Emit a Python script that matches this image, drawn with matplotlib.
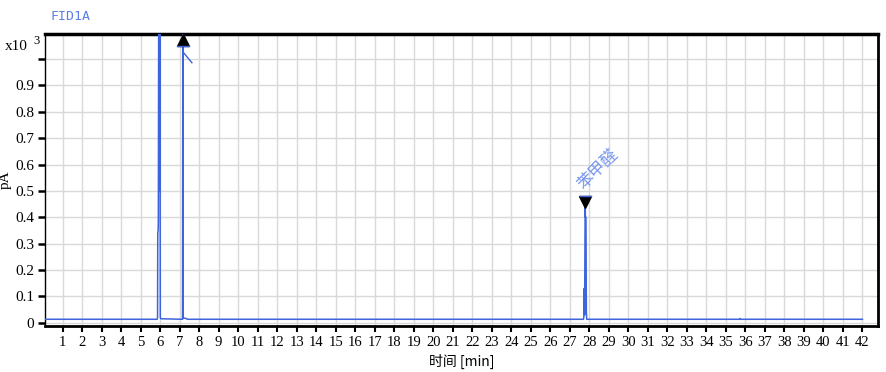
import matplotlib.pyplot as plt

# chromatogram trace (min, x10^3 pA)
time_min = [0.1, 5.85, 5.87, 5.88, 5.90, 5.91, 5.93, 5.95, 5.96, 5.97, 5.99, 6.01, 6.03,
            7.15, 7.17, 7.18, 7.30, 7.40,
            27.70, 27.72, 27.74, 27.76, 27.79, 27.80, 27.83, 27.85, 27.87,
            35.70, 35.73, 35.76, 42.0]
signal = [0.013, 0.013, 0.02, 0.34, 0.35, 0.39, 1.3, 0.5, 1.3, 0.5, 1.3, 0.02, 0.015,
          0.013, 1.3, 0.017, 0.017, 0.013,
          0.013, 0.02, 0.13, 0.03, 0.46, 0.40, 0.40, 0.04, 0.013,
          0.013, 0.016, 0.013, 0.013]

# peak markers / labels
peak_up_t, peak_up_y = 7.17, 1.072
peak_dn_t, peak_dn_y = 27.80, 0.458
peak_name = "苯甲醛"
tick_x = list(range(1, 43))
tick_y = [0, 0.1, 0.2, 0.3, 0.4, 0.5, 0.6, 0.7, 0.8, 0.9, 1.0]
tick_y_labels = ["0", "0.1", "0.2", "0.3", "0.4", "0.5", "0.6", "0.7", "0.8", "0.9", ""]
offscale_t = [7.17, 7.63]
offscale_y = [1.027, 0.986]

blue = "#3d63dd"
serif = ["Liberation Serif", "DejaVu Serif"]
cjk = ["Noto Sans CJK SC", "DejaVu Sans"]

fig = plt.figure(figsize=(8.86, 3.72), dpi=100)
ax = fig.add_axes([45/886, 46/372, 833/886, 292/372])

ax.plot(time_min, signal, color=blue, lw=1.1, zorder=3)
ax.plot(offscale_t, offscale_y, color=blue, lw=1.0, zorder=3)

ax.plot(peak_up_t, peak_up_y, marker="^", color="black", ms=8, zorder=4)
ax.plot([peak_up_t - 0.3, peak_up_t + 0.3], [peak_up_y - 0.022]*2, color=blue, lw=1, zorder=4)
ax.plot(peak_dn_t, peak_dn_y, marker="v", color="black", ms=8, zorder=4)
ax.plot([peak_dn_t - 0.3, peak_dn_t + 0.3], [peak_dn_y + 0.022]*2, color=blue, lw=1, zorder=4)
ax.text(peak_dn_t + 0.05, peak_dn_y + 0.035, peak_name, rotation=45, color="#7896ee",
        fontsize=12, family=cjk, ha="left", va="bottom", rotation_mode="anchor")

ax.set_xlim(0.1, 42.8)
ax.set_ylim(-0.0125, 1.095)
ax.set_xticks(tick_x)
ax.set_xticklabels([str(v) for v in tick_x], family=serif, fontsize=10.5)
ax.set_yticks(tick_y)
ax.set_yticklabels(tick_y_labels, family=serif, fontsize=11)
ax.tick_params(axis="x", direction="out", length=4, width=1.5, pad=3, colors="black")
ax.tick_params(axis="y", direction="out", length=5, width=1.8, pad=3, colors="black")
ax.grid(True, color="#d9d9d9", lw=1, zorder=0)
ax.set_axisbelow(True)

for side, w in [("top", 2.5), ("bottom", 2), ("right", 2), ("left", 1)]:
    ax.spines[side].set_linewidth(w)
    ax.spines[side].set_color("black")

ax.set_xlabel("时间 [min]", family=cjk, fontsize=10, labelpad=4)
ax.set_ylabel("pA", family=serif, fontsize=11, labelpad=2)

fig.text(5/886, 1 - 46/372, "x10", family=serif, fontsize=11, va="center")
fig.text(33/886, 1 - 41/372, "3", family=serif, fontsize=9, va="center")
fig.text(50/886, 1 - 16/372, "FID1A", family="DejaVu Sans Mono", fontsize=9.5,
         color="#5a7ee6", va="center")

fig.savefig("out.png", dpi=100)
